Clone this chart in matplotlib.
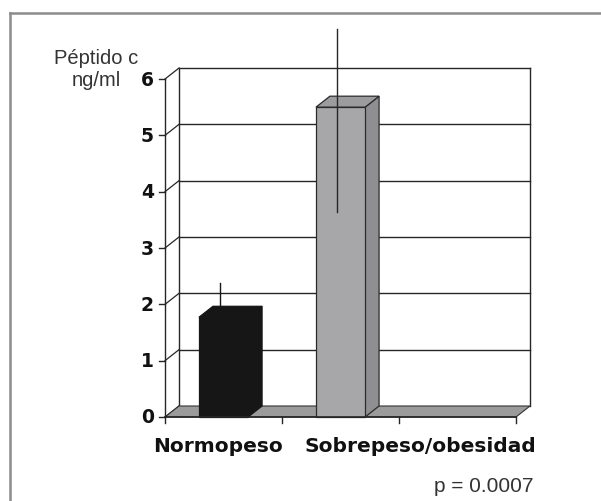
import matplotlib.pyplot as plt
from matplotlib.patches import Polygon
from matplotlib.lines import Line2D

categories = ['Normopeso', 'Sobrepeso/obesidad']
means = [1.77, 5.5]
err_upper = [2.38, 6.89]
err_lower = [1.15, 3.64]
yticks = [0, 1, 2, 3, 4, 5, 6]
n_slots = 3          # the category axis has a third, empty slot
ylabel = 'Péptido c\nng/ml'
p_text = 'p = 0.0007'

W, H = 601, 502
fig = plt.figure(figsize=(W / 100, H / 100), dpi=100)
fig.set_facecolor('white')
ax = fig.add_axes([0, 0, 1, 1])
ax.axis('off')

# front origin of the 3d box in pixels, and size of one unit
ox, oy = 165, 418
xunit, yunit = 117, 56.33
ax.set_xlim(-ox / xunit, (W - ox) / xunit)
ax.set_ylim(-(H - oy) / yunit, oy / yunit)

# depth offset of the back wall (data units)
dx = 14 / xunit
dy = 11 / yunit
ymax = yticks[-1]
line_c = '#262626'

# back wall: gridlines and edges
for k in yticks[1:]:
    ax.plot([dx, n_slots + dx], [k + dy, k + dy], color=line_c, lw=1.0, zorder=1)
ax.plot([dx, dx], [dy, ymax + dy], color=line_c, lw=1.0, zorder=1)
ax.plot([n_slots + dx, n_slots + dx], [dy, ymax + dy], color=line_c, lw=1.0, zorder=1)

# left wall: front edge, diagonals and ticks
ax.plot([0, 0], [0, ymax], color=line_c, lw=1.0, zorder=5)
for k in yticks:
    ax.plot([0, dx], [k, k + dy], color=line_c, lw=0.9, zorder=1)
    ax.plot([-0.05, 0], [k, k], color=line_c, lw=1.0, zorder=5)
    ax.text(-0.095, k, str(k), ha='right', va='center', fontsize=13.5,
            fontweight='bold', family='DejaVu Sans', color='#111111')

# floor
floor = Polygon([(0, 0), (n_slots, 0), (n_slots + dx, dy), (dx, dy)],
                closed=True, facecolor='#9b9b9b', edgecolor='#333333', lw=0.8, zorder=2)
ax.add_patch(floor)
ax.plot([0, n_slots], [0, 0], color=line_c, lw=1.2, zorder=5)
for i in range(n_slots + 1):
    ax.plot([i, i], [0, -0.1], color=line_c, lw=1.0, zorder=5)

# 3d columns
width = 0.42
styles = [
    dict(front='#161616', top='#161616', side='#161616', edge='#161616', err='#161616'),
    dict(front='#a7a7aa', top='#9c9c9f', side='#8f8f92', edge='#2b2b2b', err=line_c),
]
for i, v in enumerate(means):
    xc = i + 0.5
    xl, xr = xc - width / 2, xc + width / 2
    st = styles[i]
    side = Polygon([(xr, 0), (xr + dx, dy), (xr + dx, v + dy), (xr, v)],
                   closed=True, facecolor=st['side'], edgecolor=st['edge'], lw=0.9, zorder=3)
    top = Polygon([(xl, v), (xr, v), (xr + dx, v + dy), (xl + dx, v + dy)],
                  closed=True, facecolor=st['top'], edgecolor=st['edge'], lw=0.9, zorder=3)
    front = Polygon([(xl, 0), (xr, 0), (xr, v), (xl, v)],
                    closed=True, facecolor=st['front'], edgecolor=st['edge'], lw=0.9, zorder=3)
    for p in (side, top, front):
        ax.add_patch(p)
    ax.plot([xc - 0.03, xc - 0.03], [err_lower[i], err_upper[i]],
            color=st['err'], lw=1.0, zorder=4)

# category labels and annotations
lab_x = [218, 420]
for lab, px in zip(categories, lab_x):
    fig.text(px / W, 1 - 447 / H, lab, ha='center', va='center', fontsize=14.5,
             fontweight='bold', family='DejaVu Sans', color='#111111')

fig.text(96 / W, 1 - 69 / H, ylabel, ha='center', va='center', fontsize=14.5,
         family='Liberation Sans', color='#333333', linespacing=1.2)
fig.text(533 / W, 1 - 487 / H, p_text, ha='right', va='center', fontsize=15,
         family='Liberation Sans', color='#333333')

# outer frame (only left and top edges visible)
fig.add_artist(Line2D([9.5 / W, 9.5 / W], [0, 1 - 13.5 / H], color='#8c8c8c', lw=1.8,
                      transform=fig.transFigure))
fig.add_artist(Line2D([9.5 / W, 1], [1 - 13.5 / H, 1 - 13.5 / H], color='#8c8c8c', lw=1.8,
                      transform=fig.transFigure))

fig.savefig('out.png', dpi=100)
